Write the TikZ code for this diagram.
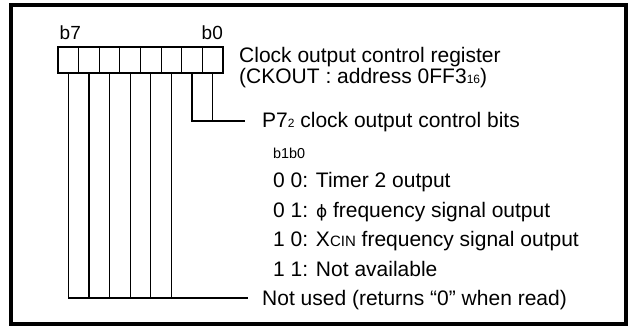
\documentclass[tikz,border=0pt]{standalone}
\usepackage{fontspec}
\setmainfont{Liberation Sans}
\newfontfamily\phifont{DejaVu Sans}
\newcommand\smallsub[1]{{\fontsize{12}{12}\selectfont #1}}
\begin{document}
\begin{tikzpicture}[x=1pt,y=-1pt,
  lbl/.style={inner sep=0pt, anchor=base west, font=\fontsize{21}{21}\selectfont},
  bitlbl/.style={inner sep=0pt, anchor=base west, font=\fontsize{19}{19}\selectfont},
  hdrlbl/.style={inner sep=0pt, anchor=base west, font=\fontsize{14.4}{14.4}\selectfont},
  cell/.style={draw, line width=1.2pt, minimum width=20.625pt, minimum height=26pt, inner sep=0pt, outer sep=0pt},
  wire/.style={line width=1.2pt}]
\useasboundingbox (0,0) rectangle (630,329);
\draw[line width=3.8pt] (11,5) rectangle (626,324);
% register cells, c7 = b7 (left) ... c0 = b0 (right)
\foreach \i in {0,...,7}
  \node[cell] (c\i) at ({58+20.625*(7.5-\i)},60) {};
% bit labels
\node[bitlbl] (b7) at (59.5,39.3) {b7};
\node[bitlbl] (b0) at (201.5,39.3) {b0};
% connector end points
\coordinate (pend) at (245,121);
\coordinate (nend) at (248,298);
% P7_2 control bits (b1, b0)
\draw[wire] (c1.south) -- (c1.south |- pend) -- (pend);
\draw[wire] (c0.south) -- (c0.south |- pend);
% not used bits (b7..b2)
\foreach \i in {2,...,6}
  \draw[wire] (c\i.south) -- (c\i.south |- nend);
\draw[wire] (c7.south) -- (c7.south |- nend) -- (nend);
% texts
\node[lbl] (reg1) at (239,62.5) {Clock output control register};
\node[lbl] (reg2) at (239,83.5) {(CKOUT : address 0FF3\smallsub{16})};
\node[lbl] (p7) at (262,127.5) {P7\smallsub{2} clock output control bits};
\node[hdrlbl] (hdr) at (273,158) {b1b0};
\node[lbl] (v00) at (273,187.5) {0 0: Timer 2 output};
\node[lbl] (v01) at (273,217) {0 1: {\phifont\fontsize{17}{17}\selectfont ϕ} frequency signal output};
\node[lbl] (v10) at (273,246.5) {1 0: X{\fontsize{15}{15}\selectfont CIN} frequency signal output};
\node[lbl] (v11) at (273,276) {1 1: Not available};
\node[lbl] (nu) at (262,305.5) {Not used (returns “0” when read)};
\end{tikzpicture}
\end{document}
